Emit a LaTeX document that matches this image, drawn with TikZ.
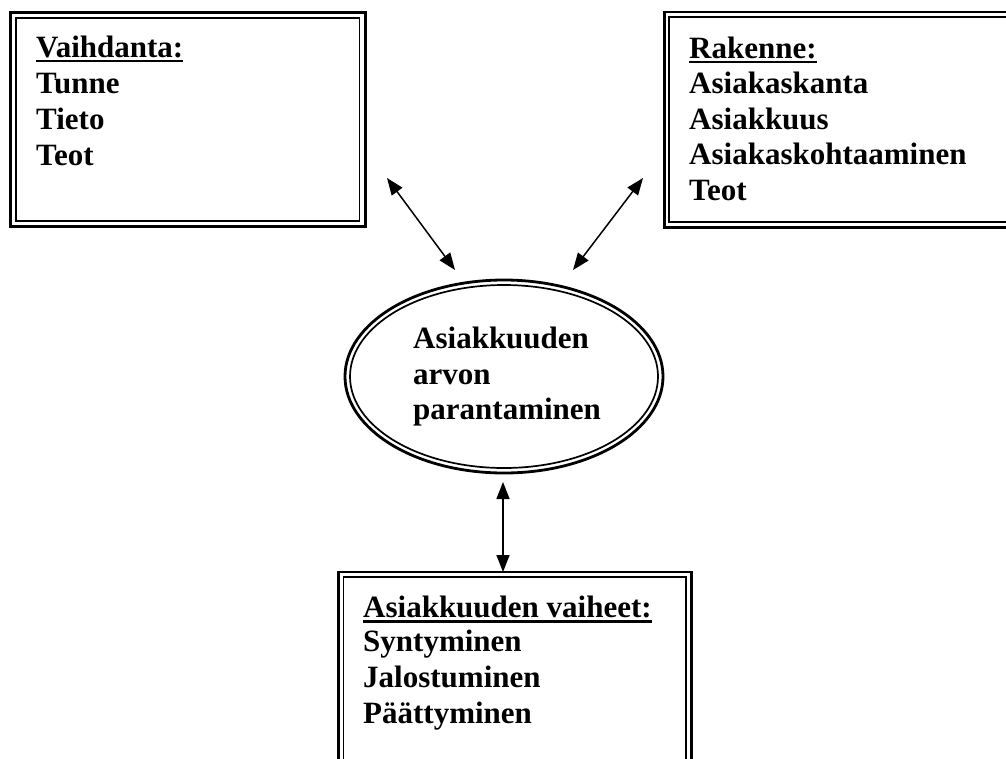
\documentclass[tikz,border=0pt]{standalone}
\usepackage{fontspec}
\setmainfont{Liberation Serif}
\usetikzlibrary{arrows.meta}
\begin{document}
\begin{tikzpicture}[x=1pt,y=-1pt,
  font=\bfseries\fontsize{31}{36}\selectfont,
  txt/.style={anchor=base west, inner sep=0pt},
  outerline/.style={line width=2.8pt},
  innerline/.style={line width=1.7pt},
  uline/.style={line width=2.5pt},
  link/.style={line width=1.5pt, {Triangle[length=17pt,width=13pt]}-{Triangle[length=17pt,width=13pt]}}]
\useasboundingbox (0,0) rectangle (1006,758);
\clip (0,0) rectangle (1006,758);
% left box
\draw[outerline] (10.5,12.5) rectangle (365.3,226.7);
\draw[innerline] (16,17.7) rectangle (359.5,221.2);
% right box (runs off the right edge)
\draw[outerline] (1030,12) -| (664.2,227.3) -- (1030,227.3);
\draw[innerline] (1030,16.7) -| (668.9,221.7) -- (1030,221.7);
% bottom box (runs off the bottom edge)
\draw[outerline] (338.5,780) |- (691.2,572) -- (691.2,780);
\draw[innerline] (343.5,780) |- (686.2,577) -- (686.2,780);
% ellipse
\draw[outerline] (504,376.5) ellipse [x radius=159, y radius=96.5];
\draw[innerline] (504,376.5) ellipse [x radius=154, y radius=91.5];
% left box text
\node[txt] (lh) at (36,57) {Vaihdanta:};
\draw[uline] ([yshift=-4pt]lh.base west) -- ([yshift=-4pt]lh.base east);
\node[txt] (l1t) at (36,93) {Tunne};
\node[txt] (l2t) at (36,129) {Tieto};
\node[txt] (l3t) at (36,165) {Teot};
% right box text
\node[txt] (rh) at (689,58) {Rakenne:};
\draw[uline] ([yshift=-4pt]rh.base west) -- ([yshift=-4pt]rh.base east);
\node[txt] (r1t) at (689,93) {Asiakaskanta};
\node[txt] (r2t) at (689,129) {Asiakkuus};
\node[txt] (r3t) at (689,164) {Asiakaskohtaaminen};
\node[txt] (r4t) at (689,200) {Teot};
% ellipse text
\node[txt] (c1) at (413,348) {Asiakkuuden};
\node[txt] (c2) at (413,384) {arvon};
\node[txt] (c3) at (413,419) {parantaminen};
% bottom box text
\node[txt] (bh) at (363,617) {Asiakkuuden vaiheet:};
\draw[uline] ([yshift=-4.5pt]bh.base west) -- ([yshift=-4.5pt]bh.base east);
\node[txt] (b1t) at (363,651) {Syntyminen};
\node[txt] (b2t) at (363,687) {Jalostuminen};
\node[txt] (b3t) at (363,723) {Päättyminen};
% arrows
\coordinate (la) at (387,178);
\coordinate (lb) at (455,270);
\coordinate (ra) at (643,178);
\coordinate (rb) at (573,270);
\coordinate (va) at (503,482);
\coordinate (vb) at (503,572);
\draw[link] (la) -- (lb);
\draw[link] (ra) -- (rb);
\draw[link] (va) -- (vb);
\end{tikzpicture}
\end{document}
